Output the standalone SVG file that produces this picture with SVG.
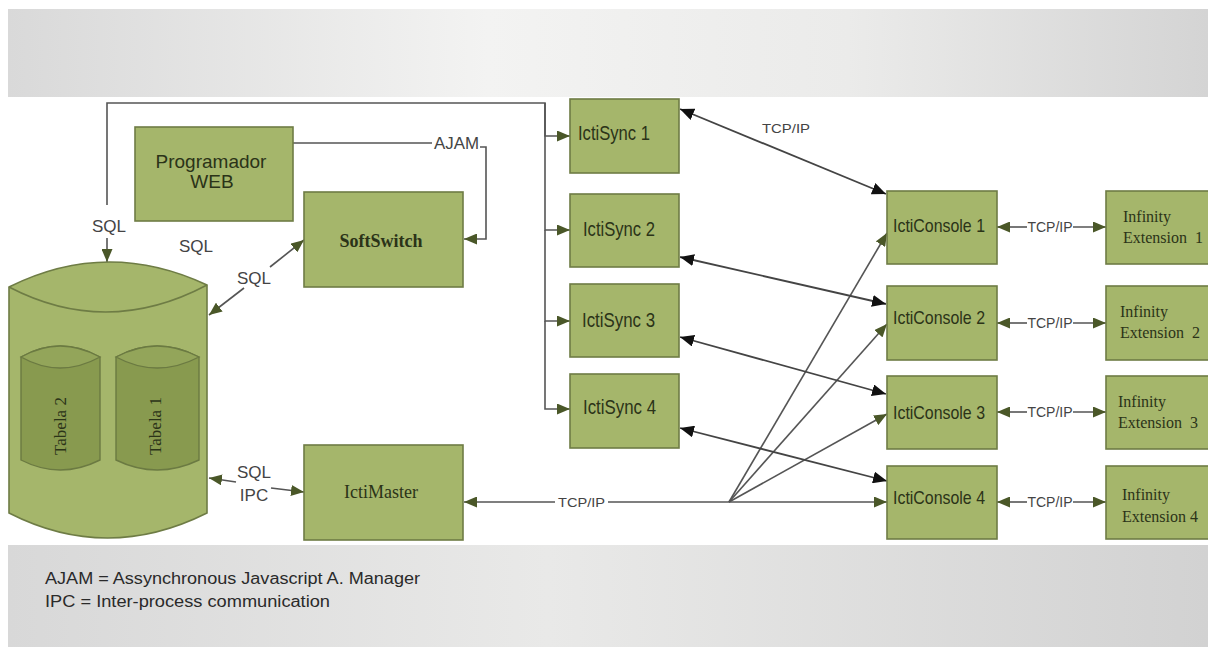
<svg xmlns="http://www.w3.org/2000/svg" width="1208" height="647" viewBox="0 0 1208 647">
<defs>
<linearGradient id="gTop" x1="0" y1="0" x2="1" y2="0">
<stop offset="0" stop-color="#d9d9d9"/><stop offset="0.4" stop-color="#f3f3f2"/><stop offset="0.7" stop-color="#ebebea"/><stop offset="1" stop-color="#d4d4d4"/>
</linearGradient>
<linearGradient id="gBot" x1="0" y1="0" x2="1" y2="0">
<stop offset="0" stop-color="#d8d8d8"/><stop offset="0.45" stop-color="#e9e9e8"/><stop offset="1" stop-color="#d2d2d2"/>
</linearGradient>
<marker id="ah" markerUnits="userSpaceOnUse" markerWidth="13" markerHeight="11" refX="13" refY="5.5" orient="auto-start-reverse" viewBox="0 0 13 11">
<path d="M0,0 L13,5.5 L0,11 z" fill="#4a5728"/>
</marker>
<marker id="ahk" markerUnits="userSpaceOnUse" markerWidth="14" markerHeight="12" refX="14" refY="6" orient="auto-start-reverse" viewBox="0 0 14 12">
<path d="M0,0 L14,6 L0,12 z" fill="#111"/>
</marker>
</defs>
<style>
.box{fill:#a5b66b;stroke:#6e7c45;stroke-width:1.6}
.cyl{fill:#a5b66b;stroke:#6e7c45;stroke-width:1.6}
.icyl{fill:#889a4f;stroke:#6b7a42;stroke-width:1.4}
.icap{fill:#93a55a;stroke:#6b7a42;stroke-width:1.4}
.ln{fill:none;stroke:#555;stroke-width:1.6}
.la{fill:none;stroke:#555;stroke-width:1.6;marker-end:url(#ah)}
.lk{fill:none;stroke:#444;stroke-width:1.8;marker-start:url(#ahk);marker-end:url(#ahk)}
.sans{font-family:"Liberation Sans",Arial,sans-serif}
.serif{font-family:"Liberation Serif","Times New Roman",serif}
.lbl{font-family:"Liberation Sans",Arial,sans-serif;fill:#444}
.nt{fill:#2b3318}
.foot{font-family:"Liberation Sans",Arial,sans-serif;font-size:16px;fill:#2a2a2a}
</style>
<rect x="0" y="0" width="1208" height="647" fill="#ffffff"/>
<rect x="8" y="9" width="1200" height="88" fill="url(#gTop)"/>
<rect x="8" y="545" width="1200" height="102" fill="url(#gBot)"/>

<g id="connectors">
<path class="ln" d="M107,205 L107,103 L545,103 L545,136"/>
<path class="la" d="M107,238 L107,262"/>
<path class="la" d="M545,103 L545,136 L570,136"/>
<path class="la" d="M545,136 L545,230 L570,230"/>
<path class="la" d="M545,230 L545,321 L570,321"/>
<path class="la" d="M545,321 L545,409 L570,409"/>
<path class="ln" d="M293,143 L432,143"/>
<path class="la" d="M480,147 L486,147 L486,239 L464,239"/>
<path class="la" d="M244,288 L209,315"/>
<path class="la" d="M270,267 L304,240"/>
<path class="la" d="M236,482 L209,478"/>
<path class="la" d="M271,488 L304,492"/>
<path class="la" d="M555,502 L464,502"/>
<path class="ln" d="M608,502 L729,502"/>
<path class="la" d="M729,502 L887,502"/>
<path class="la" d="M729,502 L887,233"/>
<path class="la" d="M729,502 L887,324"/>
<path class="la" d="M729,502 L887,414"/>
<path class="lk" d="M680,109 L886,194"/>
<path class="lk" d="M680,257 L886,304"/>
<path class="lk" d="M680,337 L886,394"/>
<path class="lk" d="M680,428 L887,481"/>
<path class="la" d="M1027,227 L997,227"/><path class="la" d="M1073,227 L1106,227"/>
<path class="la" d="M1027,323 L997,323"/><path class="la" d="M1073,323 L1106,323"/>
<path class="la" d="M1027,412 L997,412"/><path class="la" d="M1073,412 L1106,412"/>
<path class="la" d="M1027,502 L997,502"/><path class="la" d="M1073,502 L1106,502"/>
<text class="lbl" x="109" y="232" font-size="17" text-anchor="middle">SQL</text>
<text class="lbl" x="196" y="252" font-size="17" text-anchor="middle">SQL</text>
<text class="lbl" x="254" y="284" font-size="17" text-anchor="middle">SQL</text>
<text class="lbl" x="254" y="478" font-size="17" text-anchor="middle">SQL</text>
<text class="lbl" x="254" y="501" font-size="17" text-anchor="middle">IPC</text>
<text class="lbl" x="434" y="149" font-size="16" textLength="45" lengthAdjust="spacingAndGlyphs">AJAM</text>
<text class="lbl" x="762" y="133" font-size="12" textLength="48" lengthAdjust="spacingAndGlyphs">TCP/IP</text>
<text class="lbl" x="558" y="507" font-size="13" textLength="47" lengthAdjust="spacingAndGlyphs">TCP/IP</text>
<text class="lbl" x="1050" y="232" font-size="14" text-anchor="middle">TCP/IP</text>
<text class="lbl" x="1050" y="328" font-size="14" text-anchor="middle">TCP/IP</text>
<text class="lbl" x="1050" y="417" font-size="14" text-anchor="middle">TCP/IP</text>
<text class="lbl" x="1050" y="507" font-size="14" text-anchor="middle">TCP/IP</text>
</g>

<g id="database">
<path class="cyl" d="M9,287 Q107,238 207,285 L207,513 Q107,563 9,513 Z"/>
<path class="ln" style="stroke:#6e7c45" d="M9,287 Q107,338 207,285"/>
<g id="tabela2">
<path class="icyl" d="M21,357 Q60,335 100,357 L100,460 Q60,480 21,460 Z"/>
<path class="icap" d="M21,357 Q60,335 100,357 Q60,379 21,357 Z"/>
<text class="serif nt" font-size="17" text-anchor="middle" dominant-baseline="central" transform="translate(60,426) rotate(-90)">Tabela 2</text>
</g>
<g id="tabela1">
<path class="icyl" d="M116,357 Q157,335 199,357 L199,460 Q157,480 116,460 Z"/>
<path class="icap" d="M116,357 Q157,335 199,357 Q157,379 116,357 Z"/>
<text class="serif nt" font-size="17" text-anchor="middle" dominant-baseline="central" transform="translate(155,426) rotate(-90)">Tabela 1</text>
</g>
</g>

<g id="programador">
<rect class="box" x="135" y="127" width="158" height="94"/>
<text class="sans nt" x="211" y="168" font-size="19" text-anchor="middle">Programador</text>
<text class="sans nt" x="212" y="188" font-size="19" text-anchor="middle">WEB</text>
</g>
<g id="softswitch">
<rect class="box" x="304" y="192" width="159" height="95"/>
<text class="serif nt" x="381" y="247" font-size="18" font-weight="bold" text-anchor="middle">SoftSwitch</text>
</g>
<g id="ictimaster">
<rect class="box" x="304" y="445" width="159" height="95"/>
<text class="serif nt" x="381" y="498" font-size="18" text-anchor="middle">IctiMaster</text>
</g>

<g id="ictisync1"><rect class="box" x="570" y="99" width="109" height="74"/>
<text class="sans nt" x="578" y="140" font-size="20" textLength="72" lengthAdjust="spacingAndGlyphs">IctiSync 1</text></g>
<g id="ictisync2"><rect class="box" x="570" y="194" width="109" height="73"/>
<text class="sans nt" x="583" y="236" font-size="20" textLength="72" lengthAdjust="spacingAndGlyphs">IctiSync 2</text></g>
<g id="ictisync3"><rect class="box" x="570" y="284" width="109" height="73"/>
<text class="sans nt" x="582" y="327" font-size="20" textLength="73" lengthAdjust="spacingAndGlyphs">IctiSync 3</text></g>
<g id="ictisync4"><rect class="box" x="570" y="374" width="109" height="74"/>
<text class="sans nt" x="583" y="414" font-size="20" textLength="73" lengthAdjust="spacingAndGlyphs">IctiSync 4</text></g>

<g id="icticonsole1"><rect class="box" x="887" y="191" width="110" height="73"/>
<text class="sans nt" x="893" y="232" font-size="19" textLength="92" lengthAdjust="spacingAndGlyphs">IctiConsole 1</text></g>
<g id="icticonsole2"><rect class="box" x="887" y="286" width="110" height="74"/>
<text class="sans nt" x="893" y="324" font-size="19" textLength="92" lengthAdjust="spacingAndGlyphs">IctiConsole 2</text></g>
<g id="icticonsole3"><rect class="box" x="887" y="376" width="110" height="73"/>
<text class="sans nt" x="893" y="419" font-size="19" textLength="92" lengthAdjust="spacingAndGlyphs">IctiConsole 3</text></g>
<g id="icticonsole4"><rect class="box" x="887" y="466" width="110" height="73"/>
<text class="sans nt" x="893" y="504" font-size="19" textLength="92" lengthAdjust="spacingAndGlyphs">IctiConsole 4</text></g>

<g id="infinity1"><rect class="box" x="1106" y="191" width="106" height="73"/>
<text class="serif nt" x="1123" y="222" font-size="16">Infinity</text>
<text class="serif nt" x="1123" y="243" font-size="16" xml:space="preserve">Extension  1</text></g>
<g id="infinity2"><rect class="box" x="1106" y="286" width="106" height="74"/>
<text class="serif nt" x="1120" y="317" font-size="16">Infinity</text>
<text class="serif nt" x="1120" y="338" font-size="16" xml:space="preserve">Extension  2</text></g>
<g id="infinity3"><rect class="box" x="1106" y="376" width="106" height="73"/>
<text class="serif nt" x="1118" y="407" font-size="16">Infinity</text>
<text class="serif nt" x="1118" y="428" font-size="16" xml:space="preserve">Extension  3</text></g>
<g id="infinity4"><rect class="box" x="1106" y="466" width="106" height="73"/>
<text class="serif nt" x="1122" y="500" font-size="16">Infinity</text>
<text class="serif nt" x="1122" y="522" font-size="16">Extension 4</text></g>

<g id="legend">
<text class="foot" x="45" y="584" textLength="375" lengthAdjust="spacingAndGlyphs">AJAM = Assynchronous Javascript A. Manager</text>
<text class="foot" x="45" y="607" textLength="285" lengthAdjust="spacingAndGlyphs">IPC = Inter-process communication</text>
</g>
</svg>
